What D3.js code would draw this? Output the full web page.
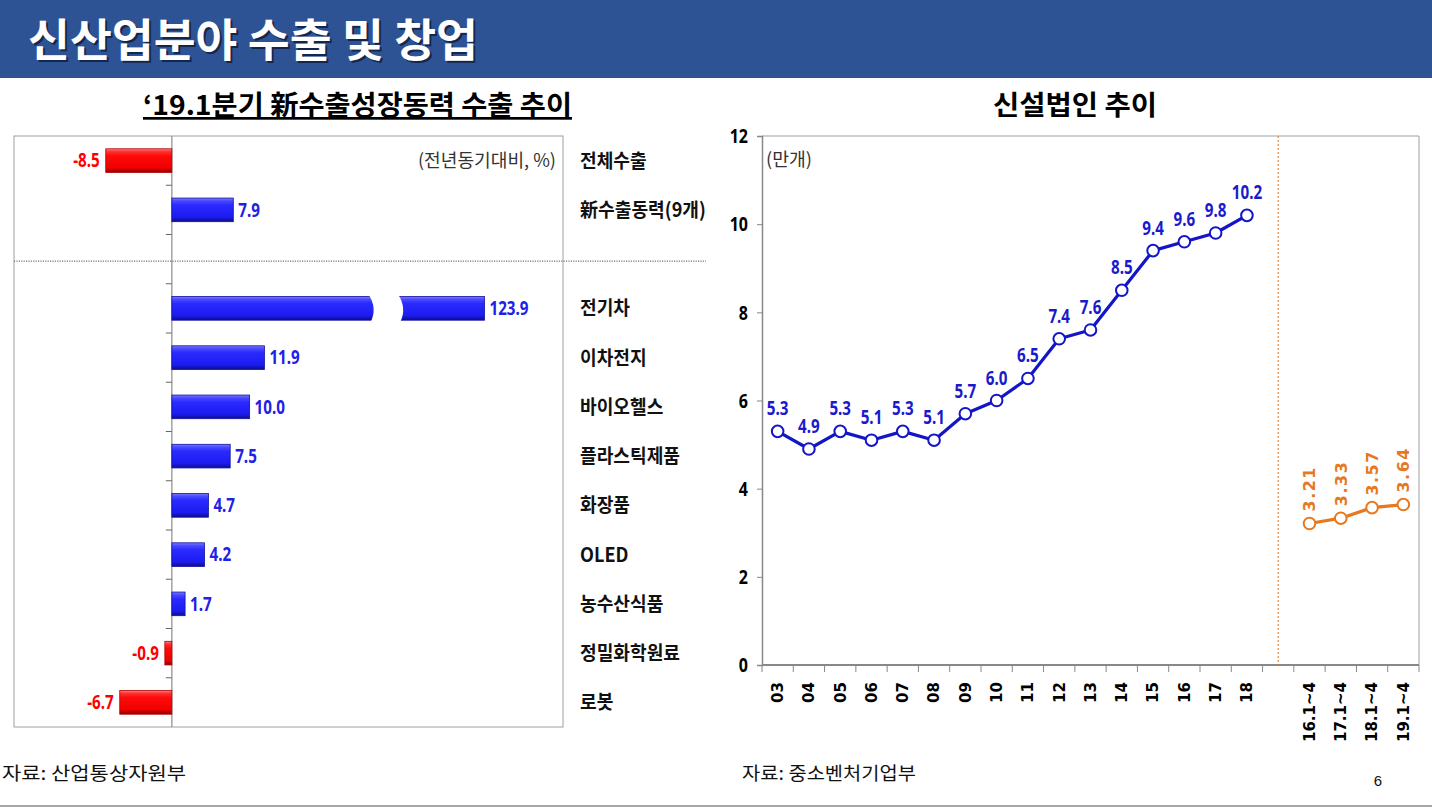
<!DOCTYPE html>
<html><head><meta charset="utf-8">
<script src="https://cdn.jsdelivr.net/npm/d3@7"></script>
<style>body{margin:0;background:#fff;} svg{display:block}</style></head>
<body>
<svg id="c" width="1432" height="808"></svg>
<script>
// ---------- DATA ----------
const exportCats = ["전체수출","新수출동력(9개)","","전기차","이차전지","바이오헬스","플라스틱제품","화장품","OLED","농수산식품","정밀화학원료","로봇"];
const exportVals = [-8.5, 7.9, null, 123.9, 11.9, 10.0, 7.5, 4.7, 4.2, 1.7, -0.9, -6.7];
const years = ["03","04","05","06","07","08","09","10","11","12","13","14","15","16","17","18"];
const firmsAnnual = [5.3, 4.9, 5.3, 5.1, 5.3, 5.1, 5.7, 6.0, 6.5, 7.4, 7.6, 8.5, 9.4, 9.6, 9.8, 10.2];
const quarters = ["16.1~4","17.1~4","18.1~4","19.1~4"];
const firmsQ = [3.21, 3.33, 3.57, 3.64];
const yTicks = [0, 2, 4, 6, 8, 10, 12];

// ---------- SETUP ----------
const svg = d3.select("#c");
const KR = "'Noto Sans CJK KR','Noto Sans',sans-serif";
const NUM = "'Noto Sans','Noto Sans CJK KR',sans-serif";
const WIDE = "'DejaVu Sans','Noto Sans CJK KR',sans-serif";
const SQ = 0.8; // horizontal squeeze for narrow numerals

function narrow(parent, x, y, txt, opts){
  return parent.append("text")
    .attr("transform", `translate(${x},${y}) scale(${SQ},1)`)
    .attr("text-anchor", opts.anchor || "start")
    .attr("dy", opts.dy || "0")
    .attr("font-family", NUM).attr("font-weight","bold")
    .attr("font-size", opts.size || 19).attr("fill", opts.fill || "#000").text(txt);
}

const defs = svg.append("defs");
function grad(id, stops){
  const g = defs.append("linearGradient").attr("id", id).attr("x1",0).attr("y1",0).attr("x2",0).attr("y2",1);
  stops.forEach(s => g.append("stop").attr("offset", s[0]).attr("stop-color", s[1]));
}
grad("gBlue", [[0,"#7a7aff"],[0.12,"#4a4aff"],[0.3,"#2a2aff"],[0.8,"#1c1cf0"],[1,"#0c0c8c"]]);
grad("gRed", [[0,"#ff8080"],[0.12,"#ff3030"],[0.3,"#ff0a0a"],[0.8,"#f00000"],[1,"#8c0000"]]);

// ---------- HEADER ----------
svg.append("rect").attr("x",0).attr("y",0).attr("width",1432).attr("height",78).attr("fill","#2e5395");
const title = "신산업분야 수출 및 창업";
svg.append("text").attr("x",30).attr("y",59).text(title)
  .attr("font-family",KR).attr("font-weight","bold").attr("font-size",45).attr("fill","#0f1f40").attr("opacity",0.85)
  .attr("textLength",450).attr("lengthAdjust","spacingAndGlyphs");
svg.append("text").attr("x",28).attr("y",57).text(title)
  .attr("font-family",KR).attr("font-weight","bold").attr("font-size",45).attr("fill","#ffffff")
  .attr("textLength",450).attr("lengthAdjust","spacingAndGlyphs");

// ---------- LEFT CHART ----------
svg.append("text").attr("x",143).attr("y",115)
  .attr("font-family",KR).attr("font-weight","bold").attr("font-size",27)
  .attr("textLength",429).attr("lengthAdjust","spacingAndGlyphs")
  .style("text-decoration","underline").text("‘19.1분기 新수출성장동력 수출 추이");

const xL = d3.scaleLinear().domain([-20.3, 50.3]).range([14, 563]);
const yL = d3.scaleBand().domain(exportCats).range([136, 727]).paddingInner(0.52).paddingOuter(0.26);
const stepL = yL.step();
const breakFrom = 25.3, breakTo = 29.1, breakEnd = 40.2; // display of off-scale bar

const L = svg.append("g");
L.append("rect").attr("x",xL.range()[0]).attr("y",136).attr("width",xL.range()[1]-xL.range()[0]).attr("height",591)
  .attr("fill","none").attr("stroke","#a0a0a0").attr("stroke-width",1);
L.append("line").attr("x1",xL(0)).attr("x2",xL(0)).attr("y1",136).attr("y2",727).attr("stroke","#8c8c8c").attr("stroke-width",1.2);
exportCats.forEach((c,i)=>{
  if(i===0) return;
  const yb = yL(c) - stepL*yL.paddingInner()/2;
  L.append("line").attr("x1",xL(0)-6).attr("x2",xL(0)).attr("y1",yb).attr("y2",yb).attr("stroke","#666").attr("stroke-width",1);
});
const sepY = yL("") + yL.bandwidth()/2 + 2;
L.append("line").attr("x1",14).attr("x2",706).attr("y1",sepY).attr("y2",sepY)
  .attr("stroke","#555").attr("stroke-width",1).attr("stroke-dasharray","1.2,1.2");

exportCats.forEach((c,i)=>{
  const v = exportVals[i];
  const y0 = yL(c), h = yL.bandwidth();
  if(c !== ""){
    L.append("text").attr("x",580).attr("y",y0+h/2).attr("dy","0.36em")
      .attr("font-family",KR).attr("font-weight","bold").attr("font-size",19.5).attr("fill","#111")
      .attr("transform",`translate(580,0) scale(0.93,1) translate(-580,0)`).text(c);
  }
  if(v === null) return;
  const shown = v > xL.domain()[1] ? breakEnd : v;
  const x0 = Math.min(xL(0), xL(shown)), x1 = Math.max(xL(0), xL(shown));
  const neg = v < 0;
  L.append("rect").attr("x",x0).attr("y",y0).attr("width",x1-x0).attr("height",h)
    .attr("fill", neg ? "url(#gRed)" : "url(#gBlue)")
    .attr("stroke", neg ? "#b00000" : "#1010a0").attr("stroke-width",0.8);
  if(shown !== v){
    const a = xL(breakFrom), b = xL(breakTo), mid = y0+h/2;
    L.append("path").attr("fill","#fff")
      .attr("d",`M${a},${y0-2} Q${a+9},${mid} ${a+2},${y0+h+2} L${b+2},${y0+h+2} Q${b+9},${mid} ${b},${y0-2} Z`);
  }
  narrow(L, neg ? xL(shown)-6 : xL(shown)+5, y0+h/2, v.toFixed(1),
    {anchor: neg ? "end" : "start", dy:"0.36em", size:19, fill: neg ? "#ff0000" : "#2020e8"});
});
L.append("text").attr("x",556).attr("y",yL(exportCats[0])+yL.bandwidth()/2).attr("dy","0.36em")
  .attr("text-anchor","end").attr("font-family",KR).attr("font-size",18).attr("fill","#333")
  .attr("textLength",138).attr("lengthAdjust","spacingAndGlyphs").text("(전년동기대비, %)");

// ---------- RIGHT CHART ----------
svg.append("text").attr("x",993).attr("y",115)
  .attr("font-family",KR).attr("font-weight","bold").attr("font-size",27)
  .attr("textLength",164).attr("lengthAdjust","spacingAndGlyphs").text("신설법인 추이");

const xDom = [...years, "gap", ...quarters];
const xR = d3.scaleBand().domain(xDom).range([762, 1419]);
const yR = d3.scaleLinear().domain([0, 12]).range([665, 136]);
const R = svg.append("g");
const [xa, xb] = xR.range();
R.append("line").attr("x1",xa).attr("x2",xb).attr("y1",yR(12)).attr("y2",yR(12)).attr("stroke","#a0a0a0");
R.append("line").attr("x1",xb).attr("x2",xb).attr("y1",yR(12)).attr("y2",yR(0)).attr("stroke","#a0a0a0");

const yAx = R.append("g").attr("transform",`translate(${xa},0)`)
  .call(d3.axisLeft(yR).tickValues(yTicks).tickSize(5).tickFormat(()=>""));
yAx.select(".domain").attr("stroke","#888").attr("stroke-width",1.5);
yAx.selectAll(".tick line").attr("stroke","#888");
yTicks.forEach(t => narrow(R, xa-14, yR(t), d3.format("d")(t), {anchor:"end", dy:"0.36em", size:20, fill:"#000"}));

R.append("line").attr("x1",xa).attr("x2",xb).attr("y1",yR(0)).attr("y2",yR(0)).attr("stroke","#888").attr("stroke-width",2);
xDom.forEach(d=>{
  R.append("line").attr("x1",xR(d)).attr("x2",xR(d)).attr("y1",yR(0)).attr("y2",yR(0)+7).attr("stroke","#888");
});
R.append("line").attr("x1",xb).attr("x2",xb).attr("y1",yR(0)).attr("y2",yR(0)+7).attr("stroke","#888");
xDom.forEach(d=>{
  if(d==="gap") return;
  const cx = xR(d) + xR.bandwidth()/2;
  R.append("text").attr("transform",`translate(${cx},682) rotate(-90)`)
    .attr("text-anchor","end").attr("dy","0.36em")
    .attr("font-family",WIDE).attr("font-weight","bold").attr("font-size",15).attr("fill","#000").text(d);
});
const gx = xR("gap") + xR.bandwidth()/2;
R.append("line").attr("x1",gx).attr("x2",gx).attr("y1",yR(12)).attr("y2",yR(0))
  .attr("stroke","#e8781e").attr("stroke-width",1).attr("stroke-dasharray","2,2");

R.append("text").attr("x",766).attr("y",166).attr("font-family",KR).attr("font-size",18).attr("fill","#333")
  .attr("textLength",46).attr("lengthAdjust","spacingAndGlyphs").text("(만개)");

function series(cats, vals, color, rotated){
  const pts = cats.map((c,i)=>[xR(c)+xR.bandwidth()/2, yR(vals[i]), vals[i]]);
  R.append("path").attr("d", d3.line()(pts.map(p=>[p[0],p[1]])))
    .attr("fill","none").attr("stroke",color).attr("stroke-width",3.2).attr("stroke-linejoin","round");
  pts.forEach(p=>{
    R.append("circle").attr("cx",p[0]).attr("cy",p[1]).attr("r",5.8)
      .attr("fill","#fff").attr("stroke",color).attr("stroke-width",2);
    if(rotated){
      R.append("text").attr("transform",`translate(${p[0]},${p[1]-12}) rotate(-90)`)
        .attr("dy","0.36em").attr("font-family",WIDE).attr("font-weight","bold").attr("font-size",16)
        .attr("letter-spacing",1.5).attr("fill",color).text(p[2].toFixed(2));
    } else {
      narrow(R, p[0], p[1]-16, p[2].toFixed(1), {anchor:"middle", size:19, fill:"#1a1acc"});
    }
  });
}
series(years, firmsAnnual, "#1414c8", false);
series(quarters, firmsQ, "#e8781e", true);

// ---------- FOOTER ----------
svg.append("text").attr("x",2).attr("y",780).attr("font-family",KR).attr("font-size",18).attr("fill","#111")
  .attr("textLength",184).attr("lengthAdjust","spacingAndGlyphs").text("자료: 산업통상자원부");
svg.append("text").attr("x",742).attr("y",780).attr("font-family",KR).attr("font-size",18).attr("fill","#111")
  .attr("textLength",174).attr("lengthAdjust","spacingAndGlyphs").text("자료: 중소벤처기업부");
svg.append("text").attr("x",1378).attr("y",786).attr("text-anchor","middle").attr("font-family","'Liberation Sans',sans-serif").attr("font-size",15).attr("fill","#111").text("6");
svg.append("line").attr("x1",0).attr("x2",1432).attr("y1",806).attr("y2",806).attr("stroke","#a6a6a6").attr("stroke-width",2);
</script>
</body></html>
